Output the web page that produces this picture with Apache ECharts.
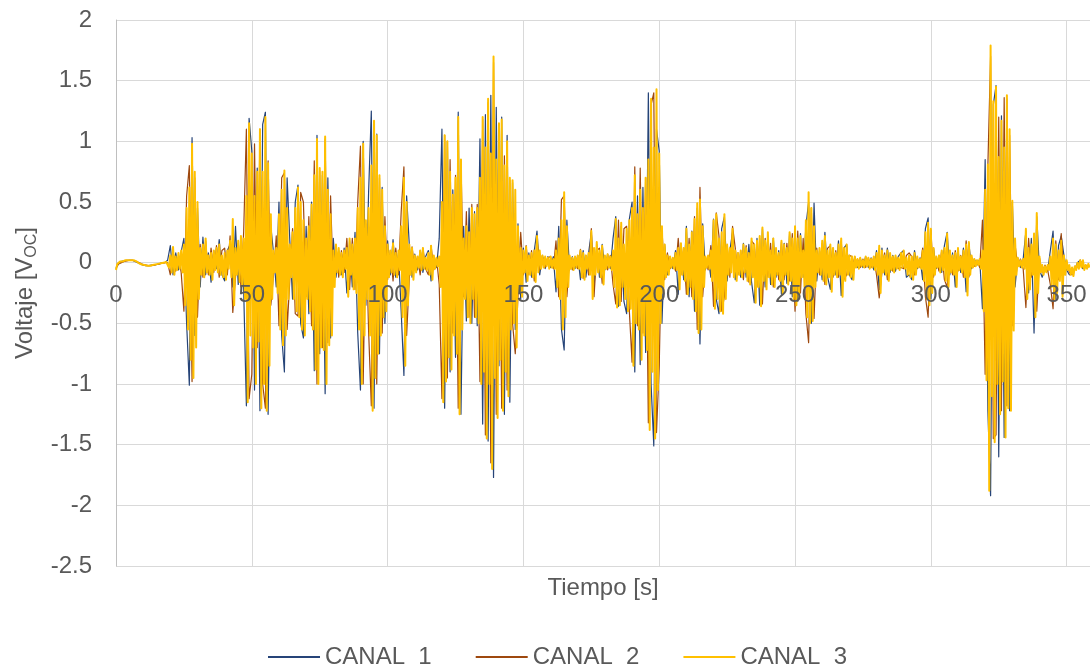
<!DOCTYPE html>
<html>
<head>
<meta charset="utf-8">
<script src="https://cdn.jsdelivr.net/npm/echarts@6/dist/echarts.min.js"></script>
<style>
  html, body { margin: 0; padding: 0; background: #ffffff; }
  #chart { width: 1090px; height: 671px; }
</style>
</head>
<body>
<div id="chart"></div>
<script>
// Sample periods [s]
const PASO_CANAL3 = 0.5;
const PASO_CANAL12 = 1;

const seriesNames = ['CANAL  1', 'CANAL  2', 'CANAL  3'];
const xTitle = 'Tiempo [s]';

// CANAL 3 (yellow), one value every 0.5 s, 20 values = 10 s per line
const canal3 = [
  -0.06,-0.01,0.0,0.01,0.01,0.01,0.015,0.02,0.02,0.02,0.025,0.02,0.02,0.02,0.015,0.01,0.0,-0.005,-0.01,-0.015,
  -0.02,-0.02,-0.025,-0.025,-0.025,-0.025,-0.02,-0.02,-0.02,-0.015,-0.01,-0.01,-0.01,-0.005,0.0,0.0,0.0,0.005,0.01,-0.04,
  0.06,-0.08,0.13,-0.1,0.05,-0.06,0.08,-0.05,0.1,-0.08,0.15,-0.35,0.45,-0.55,0.62,-0.8,0.98,-0.95,0.75,-0.7,
  0.5,-0.3,0.12,-0.1,0.15,-0.12,0.2,-0.08,0.06,-0.1,0.08,-0.14,0.1,-0.06,0.12,-0.08,0.15,-0.1,0.06,-0.12,
  0.08,-0.14,0.1,-0.05,0.18,-0.12,0.36,-0.35,0.12,-0.1,0.18,-0.16,0.22,-0.18,0.2,-0.3,0.55,-1.15,1.15,-0.6,
  0.9,-0.7,0.55,-1.0,0.75,-0.65,1.1,-1.2,0.75,-1.0,1.2,-1.22,0.82,-0.85,0.4,-0.3,0.1,-0.08,0.12,-0.25,
  0.4,-0.55,0.6,-0.68,0.76,-0.6,0.45,-0.3,0.15,-0.12,0.25,-0.3,0.45,-0.4,0.62,-0.45,0.5,-0.55,0.35,-0.6,
  0.2,-0.3,0.3,-0.4,0.48,-0.55,0.72,-0.88,1.02,-1.0,0.78,-0.7,0.75,-0.72,1.04,-1.0,0.6,-0.68,0.4,-0.6,
  0.1,-0.2,0.15,-0.08,0.12,-0.1,0.08,-0.12,0.1,-0.05,0.12,-0.28,0.2,-0.1,0.15,-0.22,0.2,-0.25,0.45,-0.55,
  0.7,-1.0,0.98,-0.6,0.35,-0.3,0.45,-0.6,0.8,-1.22,1.17,-0.95,1.05,-0.75,0.72,-0.6,0.6,-0.45,0.3,-0.4,
  0.15,-0.12,0.1,-0.08,0.16,-0.1,0.08,-0.12,0.1,-0.06,0.3,-0.45,0.7,-0.85,0.5,-0.35,0.15,-0.1,0.12,-0.14,
  0.06,-0.08,0.05,-0.04,0.1,-0.06,0.12,-0.05,0.04,-0.06,0.08,-0.1,0.14,-0.14,0.06,-0.05,0.04,-0.03,0.05,-0.2,
  0.5,-1.15,1.05,-0.98,1.0,-0.78,0.75,-0.88,0.56,-0.6,0.7,-0.75,1.2,-1.25,0.85,-0.55,0.2,-0.3,0.3,-0.45,
  0.25,-0.5,0.45,-0.3,0.4,-0.45,0.45,-0.5,0.7,-1.0,1.2,-0.9,0.95,-1.45,1.35,-1.0,0.9,-1.7,1.7,-0.95,
  0.85,-1.28,1.15,-0.8,1.18,-1.22,0.8,-0.9,1.0,-1.1,0.7,-0.55,0.68,-0.5,0.6,-0.7,0.3,-0.25,0.12,-0.28,
  0.1,-0.08,0.13,-0.15,0.06,-0.1,0.08,-0.12,0.1,-0.16,0.22,-0.08,0.1,-0.05,0.06,-0.04,0.05,-0.03,0.04,-0.05,
  0.05,-0.04,0.03,-0.05,0.1,-0.2,0.2,-0.3,0.35,-0.55,0.58,-0.45,0.3,-0.2,0.06,-0.05,0.04,-0.06,0.05,-0.04,
  0.06,-0.05,0.1,-0.12,0.08,-0.14,0.06,-0.05,0.08,-0.1,0.26,-0.3,0.12,-0.1,0.17,-0.08,0.1,-0.12,0.14,-0.18,
  0.06,-0.05,0.07,-0.04,0.05,-0.06,0.1,-0.2,0.36,-0.37,0.2,-0.35,0.33,-0.2,0.15,-0.3,0.28,-0.4,0.35,-0.38,
  0.45,-0.85,0.72,-0.5,0.4,-0.55,0.6,-0.8,0.45,-0.6,0.7,-0.72,0.85,-1.38,1.35,-0.9,0.95,-1.45,1.43,-1.05,
  0.9,-0.5,0.3,-0.25,0.15,-0.12,0.06,-0.1,0.05,-0.04,0.04,-0.05,0.08,-0.06,0.12,-0.22,0.16,-0.1,0.12,-0.15,
  0.28,-0.26,0.15,-0.2,0.25,-0.3,0.36,-0.4,0.49,-0.58,0.52,-0.55,0.3,-0.2,0.05,-0.04,0.06,-0.05,0.1,-0.15,
  0.35,-0.38,0.4,-0.3,0.2,-0.4,0.25,-0.42,0.4,-0.3,0.15,-0.1,0.12,-0.08,0.28,-0.12,0.1,-0.15,0.08,-0.1,
  0.1,-0.12,0.15,-0.08,0.12,-0.15,0.08,-0.18,0.2,-0.12,0.15,-0.33,0.18,-0.2,0.22,-0.36,0.29,-0.15,0.18,-0.22,
  0.25,-0.12,0.1,-0.18,0.2,-0.2,0.12,-0.1,0.08,-0.15,0.18,-0.26,0.15,-0.1,0.12,-0.18,0.25,-0.15,0.2,-0.3,
  0.3,-0.35,0.2,-0.28,0.22,-0.12,0.1,-0.2,0.35,-0.45,0.58,-0.5,0.45,-0.48,0.3,-0.2,0.1,-0.08,0.12,-0.1,
  0.18,-0.15,0.22,-0.18,0.1,-0.12,0.15,-0.24,0.12,-0.1,0.08,-0.12,0.15,-0.1,0.2,-0.28,0.12,-0.15,0.15,-0.1,
  0.06,-0.12,0.05,-0.14,0.05,-0.04,0.03,-0.05,0.04,-0.03,0.02,-0.04,0.05,-0.03,0.04,-0.05,0.03,-0.04,0.05,-0.06,
  0.08,-0.1,0.14,-0.25,0.1,-0.08,0.06,-0.1,0.1,-0.15,0.08,-0.06,0.05,-0.08,0.06,-0.05,0.04,-0.06,0.08,-0.04,
  0.1,-0.05,0.04,-0.1,0.06,-0.12,0.05,-0.14,0.08,-0.1,0.05,-0.04,0.03,-0.05,0.1,-0.15,0.25,-0.3,0.33,-0.35,
  0.28,-0.25,0.12,-0.1,0.05,-0.04,0.06,-0.08,0.1,-0.06,0.12,-0.15,0.24,-0.2,0.1,-0.08,0.06,-0.1,0.08,-0.2,
  0.12,-0.06,0.05,-0.08,0.1,-0.12,0.15,-0.27,0.17,-0.1,0.06,-0.04,0.03,-0.03,0.02,-0.02,0.03,-0.05,0.1,-0.4,
  0.6,-0.97,0.81,-1.88,1.79,-1.1,1.33,-1.48,1.45,-1.0,0.87,-1.25,1.17,-0.98,0.95,-1.44,1.38,-1.2,1.1,-1.22,
  0.51,-0.56,0.2,-0.1,0.04,-0.03,0.02,-0.04,0.03,-0.05,0.28,-0.3,0.12,-0.22,0.15,-0.1,0.24,-0.45,0.41,-0.25,
  0.05,-0.08,-0.02,-0.1,-0.03,-0.08,-0.02,-0.06,0.05,-0.2,0.2,-0.3,0.15,-0.25,0.1,-0.15,0.18,-0.28,0.06,-0.1,
  0.02,-0.06,-0.02,-0.1,-0.04,-0.11,-0.03,-0.06,0.0,-0.05,0.02,-0.04,0.02,-0.06,-0.02,-0.05,-0.01,-0.04
];

// CANAL 1 (blue), one value every 1 s, 10 values = 10 s per line
const canal1 = [
  -0.05,0.0,0.01,0.015,0.02,0.02,0.02,0.01,0.0,-0.01,
  -0.02,-0.025,-0.025,-0.02,-0.02,-0.015,-0.01,0.0,0.0,0.02,
  0.14,-0.1,0.08,-0.06,0.09,0.2,-0.5,-1.01,1.03,-0.6,
  0.45,-0.2,0.21,-0.1,0.08,-0.16,0.1,-0.05,0.19,-0.1,
  -0.15,0.1,0.15,-0.2,0.3,-0.18,0.2,-0.22,-1.18,1.19,
  0.92,-1.05,0.78,-1.22,1.14,1.24,-1.25,0.3,0.08,-0.2,
  0.5,-0.6,-0.9,0.7,0.18,-0.3,0.5,0.64,-0.5,-0.62,
  0.3,-0.42,0.5,-0.89,1.05,-0.75,0.72,-1.08,0.7,-0.62,
  0.2,-0.12,0.1,-0.1,0.12,-0.25,0.18,-0.2,0.25,-0.58,
  -1.05,1.0,-0.35,0.58,1.25,-1.2,1.06,-0.75,0.62,-0.5,
  0.18,-0.1,0.19,-0.12,0.08,-0.4,-0.93,0.55,0.14,-0.12,
  0.07,-0.06,0.1,-0.08,0.05,0.1,-0.15,0.05,-0.04,0.2,
  1.1,-1.2,1.0,-0.9,0.6,-0.78,1.24,-1.25,0.3,-0.48,
  0.45,-0.5,0.42,-0.52,1.02,-1.33,1.22,-1.47,1.38,-1.77,
  1.28,-0.85,1.2,-1.25,1.05,-1.15,0.66,-0.55,0.32,-0.3,
  0.12,-0.16,0.08,-0.12,0.1,0.26,-0.1,0.06,-0.05,0.05,
  -0.04,0.05,-0.24,0.3,-0.55,-0.72,0.35,-0.06,0.05,-0.05,
  0.06,-0.14,0.1,-0.12,0.08,0.25,-0.2,0.15,-0.12,0.15,
  -0.06,0.07,-0.05,0.2,0.38,-0.36,0.3,-0.32,-0.42,0.36,
  0.5,-0.9,0.55,-0.84,0.62,-0.74,1.4,-1.0,-1.51,1.1,
  0.92,-0.5,0.15,-0.1,0.05,-0.05,0.1,-0.26,0.15,-0.14,
  0.3,-0.28,0.26,-0.4,0.45,-0.67,0.32,-0.06,0.05,-0.12,
  0.36,-0.3,-0.42,0.28,0.38,-0.15,0.1,0.25,-0.14,0.08,
  -0.12,0.16,-0.12,0.15,-0.16,-0.33,0.2,-0.35,0.28,-0.2,
  0.22,-0.18,0.2,-0.12,0.1,-0.26,0.16,-0.17,0.24,-0.28,
  0.28,-0.32,0.24,-0.12,0.3,0.5,-0.5,0.49,-0.15,0.1,
  -0.14,0.25,-0.12,-0.22,0.12,-0.1,0.18,-0.27,0.12,0.15,
  -0.1,-0.14,0.05,-0.04,0.04,-0.04,0.05,-0.04,0.04,-0.06,
  0.1,-0.22,0.12,-0.1,0.12,-0.08,0.06,-0.07,0.05,0.08,
  0.1,-0.12,-0.1,-0.14,0.1,-0.05,0.04,-0.14,0.28,0.37,
  -0.3,0.12,-0.05,0.06,-0.08,0.14,0.25,-0.1,0.08,-0.2,
  0.1,-0.08,0.12,-0.24,0.16,-0.05,0.03,-0.02,0.03,-0.38,
  0.85,-1.22,-1.92,1.3,1.46,-1.6,1.21,-1.44,1.35,-1.22,
  0.5,-0.2,0.04,-0.04,0.03,0.26,-0.25,0.2,-0.58,0.38,
  -0.06,-0.12,-0.05,-0.07,0.1,0.26,-0.3,0.14,0.22,0.06,
  -0.06,-0.1,-0.08,-0.05,0.0,0.02,-0.05,-0.03,-0.04
];

// CANAL 2 (brown), one value every 1 s, 10 values = 10 s per line
const canal2 = [
  -0.04,-0.01,0.0,0.01,0.015,0.02,0.02,0.015,0.005,-0.005,
  -0.015,-0.02,-0.025,-0.025,-0.02,-0.015,-0.01,-0.005,0.0,0.0,
  -0.1,0.1,-0.07,0.05,-0.08,-0.4,0.55,0.8,-0.98,0.7,
  -0.45,0.15,-0.12,0.18,-0.1,0.12,-0.08,0.14,-0.12,0.1,
  0.12,-0.1,0.22,-0.41,-0.12,0.16,-0.2,0.25,1.1,-1.12,
  -0.92,0.98,-0.7,1.1,-1.0,-1.2,0.84,-0.35,-0.1,0.22,
  -0.52,0.7,0.74,-0.55,-0.14,0.28,-0.42,-0.44,0.58,0.5,
  -0.28,0.38,-0.52,0.84,-1.0,0.76,-0.7,1.02,-0.66,0.55,
  -0.18,0.14,-0.12,0.1,-0.08,0.2,-0.22,0.2,-0.22,0.5,
  0.96,-1.0,0.32,-0.56,-1.18,1.15,-1.0,0.7,-0.58,0.38,
  -0.14,0.1,-0.15,0.12,-0.1,0.42,0.79,-0.6,-0.12,0.13,
  -0.06,0.05,-0.1,0.12,-0.05,-0.1,0.14,-0.06,0.04,-0.18,
  -1.12,1.05,-0.95,0.85,-0.58,0.72,-1.2,0.85,-0.28,0.42,
  -0.45,0.48,-0.45,0.48,-0.98,1.18,-1.42,1.32,-1.65,1.65,
  -1.25,1.12,-1.2,0.88,-1.05,0.68,-0.5,-0.75,-0.28,0.25,
  -0.1,0.14,-0.1,0.1,-0.15,0.2,-0.06,0.05,-0.04,0.04,
  0.05,-0.05,0.18,-0.28,0.52,0.55,-0.28,0.05,-0.06,0.04,
  -0.05,0.11,-0.13,0.06,-0.1,0.28,-0.28,0.1,0.12,-0.17,
  0.05,-0.06,0.06,-0.18,-0.34,0.35,-0.32,0.28,0.3,-0.4,
  -0.82,0.79,-0.52,0.78,-0.58,0.7,-1.32,1.3,1.4,-1.4,
  -0.85,0.28,-0.14,0.08,-0.05,0.04,-0.07,0.2,-0.1,0.12,
  -0.26,0.2,-0.28,0.38,-0.55,0.62,-0.28,0.05,-0.06,0.14,
  -0.36,0.41,0.22,-0.4,-0.28,0.14,-0.12,0.3,0.12,-0.1,
  0.1,-0.14,0.14,-0.16,0.18,0.15,-0.2,0.2,-0.34,0.2,
  -0.12,0.16,-0.2,0.1,-0.14,0.17,-0.14,0.16,-0.15,0.24,
  -0.4,0.26,-0.25,0.2,-0.42,-0.66,0.45,-0.46,0.12,-0.1,
  0.16,-0.18,0.12,0.14,-0.12,0.1,-0.12,0.18,-0.14,-0.1,
  0.06,0.05,-0.04,0.03,-0.04,0.03,-0.04,0.04,-0.04,0.05,
  -0.1,-0.29,-0.08,0.08,-0.14,0.07,-0.07,0.05,-0.05,-0.04,
  -0.05,0.06,0.08,0.05,-0.1,0.04,-0.04,0.12,-0.28,-0.45,
  0.27,-0.12,0.04,-0.07,0.1,-0.14,-0.2,0.1,-0.1,0.1,
  -0.07,0.06,-0.12,0.18,-0.12,0.05,-0.03,0.02,-0.04,0.35,
  -0.92,0.8,1.7,-1.45,-1.42,1.2,-1.22,1.36,-1.18,1.05,
  -0.52,0.15,-0.03,0.03,-0.05,-0.37,0.2,-0.12,0.22,-0.4,
  0.04,-0.08,-0.02,-0.06,-0.18,-0.38,0.18,-0.14,0.24,-0.1,
  0.01,-0.08,-0.1,-0.04,-0.03,0.02,-0.04,-0.02,-0.03
];

const X_MIN = 0, X_MAX = 358.6, X_INTERVAL = 50;
const Y_MIN = -2.5, Y_MAX = 2, Y_INTERVAL = 0.5;

function toPairs(values, step) {
  return values.map(function (v, i) { return [i * step, v]; });
}

const FONT = '"Liberation Sans", Arial, sans-serif';
const TXT = '#595959';
const GRIDLINE = '#d9d9d9';

const GRID = { left: 116, right: 0, top: 20, bottom: 105 };
const CHART_H = 671;
// The x tick labels sit on the y = 0 line: shift that axis up from the bottom edge to zero
const plotH = CHART_H - GRID.top - GRID.bottom;
const zeroShift = plotH * (0 - Y_MIN) / (Y_MAX - Y_MIN);

const chart = echarts.init(document.getElementById('chart'), null, { renderer: 'canvas' });

const option = {
  animation: false,
  backgroundColor: '#ffffff',
  grid: { left: GRID.left, right: GRID.right, top: GRID.top, bottom: GRID.bottom, containLabel: false },
  legend: {
    left: 263, top: 640,
    icon: 'rect',
    itemWidth: 52, itemHeight: 2, itemGap: 44,
    textStyle: { fontSize: 24, color: TXT, fontFamily: FONT },
    data: seriesNames
  },
  graphic: [{
    type: 'text', x: 603, y: 588, silent: true,
    style: { text: xTitle, fill: TXT, fontSize: 24, fontFamily: FONT, align: 'center', verticalAlign: 'middle' }
  }],
  xAxis: [{
    // tick labels, drawn above the traces, on the zero line
    type: 'value', min: X_MIN, max: X_MAX, interval: X_INTERVAL,
    position: 'bottom', offset: -zeroShift, z: 10,
    axisLine: { show: false, onZero: false },
    axisTick: { show: false },
    axisLabel: { color: TXT, fontSize: 24, fontFamily: FONT, margin: 21, showMaxLabel: false },
    splitLine: { show: false }
  }, {
    // vertical gridlines, behind the traces
    type: 'value', min: X_MIN, max: X_MAX, interval: X_INTERVAL,
    position: 'top', z: 0,
    axisLine: { show: false, onZero: false },
    axisTick: { show: false },
    axisLabel: { show: false },
    splitLine: { show: true, lineStyle: { color: GRIDLINE, width: 1 } }
  }],
  yAxis: {
    type: 'value', min: Y_MIN, max: Y_MAX, interval: Y_INTERVAL,
    axisLine: { show: true, onZero: false, lineStyle: { color: '#bfbfbf', width: 1 } },
    axisTick: { show: false },
    axisLabel: { color: TXT, fontSize: 24, fontFamily: FONT, margin: 24 },
    splitLine: { show: true, lineStyle: { color: GRIDLINE, width: 1 } },
    name: '{a|Voltaje [V}{b|OC}{a|]}', nameLocation: 'middle', nameGap: 76, nameRotate: 90,
    nameTextStyle: {
      color: TXT, fontFamily: FONT,
      rich: {
        a: { fontSize: 24, color: TXT, fontFamily: FONT, lineHeight: 28, verticalAlign: 'middle' },
        b: { fontSize: 16, color: TXT, fontFamily: FONT, lineHeight: 16, verticalAlign: 'bottom' }
      }
    }
  },
  series: [{
    name: seriesNames[0], type: 'line', xAxisIndex: 0, symbol: 'none', showSymbol: false,
    lineStyle: { color: '#264478', width: 1.2, join: 'round' }, itemStyle: { color: '#264478' },
    data: toPairs(canal1, PASO_CANAL12), z: 2
  }, {
    name: seriesNames[1], type: 'line', xAxisIndex: 0, symbol: 'none', showSymbol: false,
    lineStyle: { color: '#9e480e', width: 1.2, join: 'round' }, itemStyle: { color: '#9e480e' },
    data: toPairs(canal2, PASO_CANAL12), z: 3
  }, {
    name: seriesNames[2], type: 'line', xAxisIndex: 0, symbol: 'none', showSymbol: false,
    lineStyle: { color: '#ffc000', width: 2, join: 'round' }, itemStyle: { color: '#ffc000' },
    data: toPairs(canal3, PASO_CANAL3), z: 4
  }]
};

chart.setOption(option);
</script>
</body>
</html>
